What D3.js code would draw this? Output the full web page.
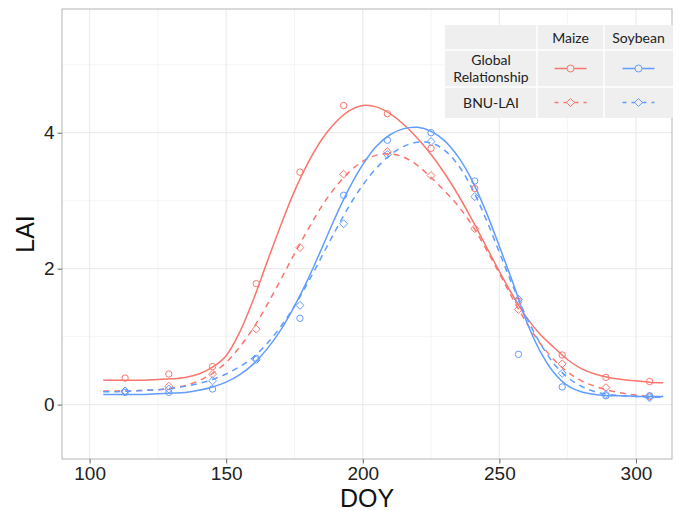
<!DOCTYPE html>
<html>
<head>
<meta charset="utf-8">
<script src="https://cdn.jsdelivr.net/npm/d3@7"></script>
<style>
  body { margin: 0; background: #fff; }
  svg { display: block; }
</style>
</head>
<body>
<div id="chart"></div>
<script>
// fitted curves, every 5 days
const curveDoy = [105,110,115,120,125,130,135,140,145,150,155,160,165,170,175,180,185,190,195,200,205,
                  210,215,220,225,230,235,240,245,250,255,260,265,270,275,280,285,290,295,300,305,310];
const maizeGlobalCurve = [0.36,0.36,0.36,0.36,0.37,0.38,0.40,0.45,0.55,0.72,1.07,1.55,2.10,2.64,3.14,3.56,3.90,4.15,4.32,4.40,4.38,
                          4.28,4.12,3.92,3.68,3.40,3.08,2.72,2.34,1.96,1.60,1.28,1.03,0.84,0.66,0.53,0.45,0.40,0.37,0.35,0.33,0.32];
const maizeBnuCurve = [0.20,0.20,0.20,0.21,0.22,0.24,0.28,0.35,0.46,0.62,0.85,1.13,1.47,1.84,2.22,2.58,2.92,3.20,3.42,3.58,3.67,
                       3.69,3.64,3.52,3.34,3.14,2.92,2.64,2.30,1.93,1.55,1.20,0.90,0.66,0.48,0.35,0.27,0.21,0.17,0.14,0.12,0.11];
const soyGlobalCurve = [0.15,0.15,0.15,0.15,0.16,0.17,0.18,0.21,0.26,0.33,0.44,0.60,0.82,1.10,1.45,1.85,2.30,2.76,3.18,3.53,3.80,
                        3.97,4.06,4.08,4.02,3.88,3.64,3.30,2.85,2.33,1.79,1.22,0.78,0.47,0.28,0.19,0.15,0.13,0.13,0.12,0.12,0.12];
const soyBnuCurve = [0.19,0.19,0.20,0.21,0.22,0.24,0.27,0.31,0.37,0.45,0.56,0.70,0.90,1.15,1.45,1.80,2.18,2.56,2.92,3.23,3.48,
                     3.67,3.80,3.86,3.85,3.74,3.52,3.18,2.74,2.24,1.74,1.28,0.90,0.60,0.40,0.27,0.19,0.15,0.13,0.12,0.11,0.11];

// observations (16-day composites)
const pointDoy = [113,129,145,161,177,193,209,225,241,257,273,289,305];
const maizeGlobalPts = [0.39,0.45,0.56,1.78,3.42,4.40,4.28,3.77,3.18,1.52,0.73,0.40,0.34];
const maizeBnuPts    = [0.20,0.27,0.45,1.11,2.31,3.39,3.72,3.37,2.59,1.40,0.60,0.25,0.12];
const soyGlobalPts   = [0.18,0.18,0.23,0.68,1.27,3.08,3.89,4.00,3.29,0.74,0.26,0.13,0.13];
const soyBnuPts      = [0.20,0.23,0.35,0.66,1.46,2.66,3.68,3.87,3.06,1.55,0.46,0.15,0.10];

const xTicks = [100,150,200,250,300];
const xMinor = [125,175,225,275];
const yTicks = [0,2,4];
const yMinor = [1,3,5];

const crops = ["Maize", "Soybean"];
const methods = ["Global\nRelationship", "BNU-LAI"];

const RED = "#F8766D", BLUE = "#619CFF";
const series = [
  { crop: "Maize",   method: 0, color: RED,  curve: maizeGlobalCurve, pts: maizeGlobalPts },
  { crop: "Maize",   method: 1, color: RED,  curve: maizeBnuCurve,    pts: maizeBnuPts },
  { crop: "Soybean", method: 0, color: BLUE, curve: soyGlobalCurve,   pts: soyGlobalPts },
  { crop: "Soybean", method: 1, color: BLUE, curve: soyBnuCurve,      pts: soyBnuPts }
];

const W = 681, H = 511;
const panel = { left: 62, right: 672, top: 9, bottom: 459 };

const x = d3.scaleLinear().domain([89.9, 313.2]).range([panel.left, panel.right]);
const y = d3.scaleLinear().domain([-0.8, 5.82]).range([panel.bottom, panel.top]);

const svg = d3.select("#chart").append("svg").attr("width", W).attr("height", H);

svg.append("rect").attr("x", panel.left).attr("y", panel.top)
  .attr("width", panel.right - panel.left).attr("height", panel.bottom - panel.top)
  .attr("fill", "#fff");

// grid
const grid = svg.append("g");
grid.selectAll(".xmin").data(xMinor).join("line")
  .attr("x1", d => x(d)).attr("x2", d => x(d)).attr("y1", panel.top).attr("y2", panel.bottom)
  .attr("stroke", "#f5f5f5").attr("stroke-width", 1);
grid.selectAll(".ymin").data(yMinor).join("line")
  .attr("y1", d => y(d)).attr("y2", d => y(d)).attr("x1", panel.left).attr("x2", panel.right)
  .attr("stroke", "#f5f5f5").attr("stroke-width", 1);
grid.selectAll(".xmaj").data(xTicks).join("line")
  .attr("x1", d => x(d)).attr("x2", d => x(d)).attr("y1", panel.top).attr("y2", panel.bottom)
  .attr("stroke", "#ececec").attr("stroke-width", 1.2);
grid.selectAll(".ymaj").data(yTicks).join("line")
  .attr("y1", d => y(d)).attr("y2", d => y(d)).attr("x1", panel.left).attr("x2", panel.right)
  .attr("stroke", "#ececec").attr("stroke-width", 1.2);

// curves
const line = d3.line()
  .x((d, i) => x(curveDoy[i]))
  .y(d => y(d))
  .curve(d3.curveCatmullRom.alpha(0.5));

const plot = svg.append("g");
series.forEach(s => {
  plot.append("path").datum(s.curve)
    .attr("d", line)
    .attr("fill", "none")
    .attr("stroke", s.color)
    .attr("stroke-width", 1.5)
    .attr("stroke-dasharray", s.method === 1 ? "6,5" : null);
});

// markers
const diamond = d3.symbol().type(d3.symbolDiamond2).size(40);
series.forEach(s => {
  const g = plot.append("g");
  if (s.method === 0) {
    g.selectAll("circle").data(s.pts).join("circle")
      .attr("cx", (d, i) => x(pointDoy[i])).attr("cy", d => y(d))
      .attr("r", 3.2)
      .attr("fill", "none").attr("stroke", s.color).attr("stroke-width", 1);
  } else {
    g.selectAll("path").data(s.pts).join("path")
      .attr("d", diamond)
      .attr("transform", (d, i) => `translate(${x(pointDoy[i])},${y(d)})`)
      .attr("fill", "none").attr("stroke", s.color).attr("stroke-width", 1);
  }
});

// panel border
svg.append("rect").attr("x", panel.left).attr("y", panel.top)
  .attr("width", panel.right - panel.left).attr("height", panel.bottom - panel.top)
  .attr("fill", "none").attr("stroke", "#b5b5b5").attr("stroke-width", 1);

// axes
const xAxis = svg.append("g").attr("transform", `translate(0,${panel.bottom})`)
  .call(d3.axisBottom(x).tickValues(xTicks).tickSize(4.5).tickPadding(3));
const yAxis = svg.append("g").attr("transform", `translate(${panel.left},0)`)
  .call(d3.axisLeft(y).tickValues(yTicks).tickFormat(d3.format("d")).tickSize(4.5).tickPadding(3));
[xAxis, yAxis].forEach(a => {
  a.select(".domain").remove();
  a.selectAll(".tick line").attr("stroke", "#666");
  a.selectAll(".tick text").attr("fill", "#222")
    .style("font-family", "'Liberation Sans', Arial, sans-serif").style("font-size", "19px");
});

svg.append("text")
  .attr("x", (panel.left + panel.right) / 2).attr("y", 507)
  .attr("text-anchor", "middle")
  .style("font-family", "'Liberation Sans', Arial, sans-serif").style("font-size", "25px")
  .attr("fill", "#111").text("DOY");

svg.append("text")
  .attr("transform", `translate(34,${(panel.top + panel.bottom) / 2}) rotate(-90)`)
  .attr("text-anchor", "middle")
  .style("font-family", "'Liberation Sans', Arial, sans-serif").style("font-size", "25px")
  .attr("fill", "#111").text("LAI");

// legend: a small table of crop x method
const leg = { x0: 445, x1: 537, x2: 604, x3: 673, y0: 25, y1: 50, y2: 87, y3: 118 };
const lg = svg.append("g").style("font-family", "Lato, 'Open Sans', sans-serif").style("font-size", "14px");
lg.append("rect").attr("x", leg.x0).attr("y", leg.y0)
  .attr("width", leg.x3 - leg.x0).attr("height", leg.y3 - leg.y0).attr("fill", "#efefef");
[leg.x1, leg.x2].forEach(v => lg.append("line").attr("x1", v).attr("x2", v).attr("y1", leg.y0).attr("y2", leg.y3)
  .attr("stroke", "#fff").attr("stroke-width", 1.5));
[leg.y1, leg.y2].forEach(v => lg.append("line").attr("x1", leg.x0).attr("x2", leg.x3).attr("y1", v).attr("y2", v)
  .attr("stroke", "#fff").attr("stroke-width", 1.5));

const colCx = { Maize: (leg.x1 + leg.x2) / 2, Soybean: (leg.x2 + leg.x3) / 2 };
const rowCy = [(leg.y1 + leg.y2) / 2, (leg.y2 + leg.y3) / 2];

crops.forEach(c => lg.append("text").attr("x", colCx[c]).attr("y", (leg.y0 + leg.y1) / 2 + 5)
  .attr("text-anchor", "middle").attr("fill", "#222").text(c));

methods.forEach((m, i) => {
  const parts = m.split("\n");
  parts.forEach((p, j) => lg.append("text").attr("text-anchor", "middle").attr("fill", "#222")
    .attr("x", (leg.x0 + leg.x1) / 2)
    .attr("y", rowCy[i] + 5 + (j - (parts.length - 1) / 2) * 17).text(p));
});

series.forEach(s => {
  const cx = colCx[s.crop], cy = rowCy[s.method];
  lg.append("line").attr("x1", cx - 16).attr("x2", cx + 16).attr("y1", cy).attr("y2", cy)
    .attr("stroke", s.color).attr("stroke-width", 1.5)
    .attr("stroke-dasharray", s.method === 1 ? "5,5" : null)
    .attr("stroke-dashoffset", s.method === 1 ? 1 : null);
  if (s.method === 0) {
    lg.append("circle").attr("cx", cx).attr("cy", cy).attr("r", 3.5)
      .attr("fill", "#efefef").attr("stroke", s.color).attr("stroke-width", 1);
  } else {
    lg.append("path").attr("d", diamond).attr("transform", `translate(${cx},${cy})`)
      .attr("fill", "#efefef").attr("stroke", s.color).attr("stroke-width", 1);
  }
});
</script>
</body>
</html>
